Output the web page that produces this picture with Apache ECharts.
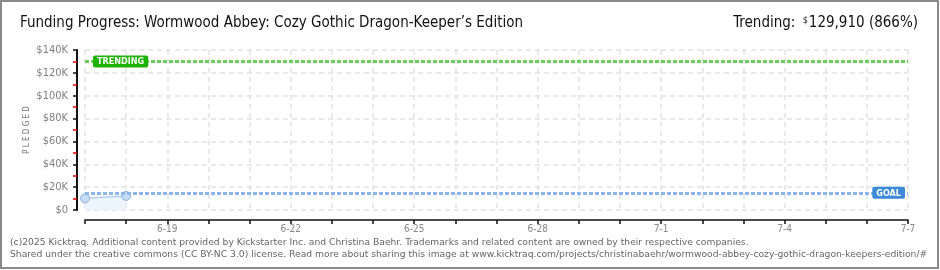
<!DOCTYPE html>
<html><head><meta charset="utf-8">
<script src="https://cdn.jsdelivr.net/npm/echarts@6/dist/echarts.min.js"></script>
<style>html,body{margin:0;padding:0;background:#fff}#c{width:940px;height:270px}</style>
</head><body><div id="c"></div>
<script>
const categories = ['6-17','6-18','6-19','6-20','6-21','6-22','6-23','6-24','6-25','6-26','6-27','6-28','6-29','6-30','7-1','7-2','7-3','7-4','7-5','7-6','7-7'];
const pledged = [10200, 12300];
const goal = 15000;
const trending = 129910;
const yTicks = [0, 20000, 40000, 60000, 80000, 100000, 120000, 140000];
const titleText = 'Funding Progress: Wormwood Abbey: Cozy Gothic Dragon-Keeper\u2019s Edition';
const footer1 = '(c)2025 Kicktraq. Additional content provided by Kickstarter Inc. and Christina Baehr. Trademarks and related content are owned by their respective companies.';
const footer2 = 'Shared under the creative commons (CC BY-NC 3.0) license. Read more about sharing this image at www.kicktraq.com/projects/christinabaehr/wormwood-abbey-cozy-gothic-dragon-keepers-edition/#';

const chart = echarts.init(document.getElementById('c'), null, {renderer:'canvas'});
const pixFont = '"DejaVu Sans Condensed", "DejaVu Sans", sans-serif';
chart.setOption({
  animation: false,
  grid: {left: 85, right: 32, top: 50, bottom: 60},
  title: [
    {text: titleText, left: 15, top: 11, textStyle: {fontFamily: pixFont, fontSize: 15, fontWeight: 'normal', color: '#111'}},
    {text: '{l|Trending: }{s|$}{l|' + trending.toLocaleString('en-US') + ' (' + Math.round(trending/goal*100) + '%)}',
     right: 17, top: 11,
     textStyle: {fontWeight: 'normal', rich: {l: {fontFamily: pixFont, fontSize: 15, fontWeight: 'normal', color: '#111'}, s: {fontFamily: pixFont, fontSize: 9, fontWeight: 'normal', color: '#111', verticalAlign: 'top', padding:[0,1,6,3]}}}}
  ],
  xAxis: {
    type: 'category', data: categories, boundaryGap: false, offset: 10,
    axisLine: {show: true, onZero: false, lineStyle: {color: '#111', width: 1.5}},
    axisTick: {show: true, interval: 0, length: 4, lineStyle: {color: '#111', width: 1.5}},
    axisLabel: {interval: (i) => (i - 2) % 3 === 0, color: '#888', fontFamily: pixFont, fontSize: 10, margin: 4},
    splitLine: {show: true, interval: 0, lineStyle: {color: '#e2e2e2', type: [5, 4], width: 1.5}}
  },
  yAxis: {
    type: 'value', position: 'left', min: 0, max: 140000, interval: 20000, offset: 8,
    axisLine: {show: true, onZero: false, lineStyle: {color: '#111', width: 2, type: 'solid'}},
    axisTick: {show: true, length: 4, lineStyle: {color: '#111', width: 1.5}},
    minorTick: {show: true, splitNumber: 2, length: 4, lineStyle: {color: '#e00', width: 1.5}},
    axisLabel: {color: '#808080', fontFamily: pixFont, fontSize: 11, margin: 9,
      formatter: (v) => v === 0 ? '$0' : '$' + (v/1000) + 'K'},
    splitLine: {show: true, lineStyle: {color: '#e2e2e2', type: [5, 4], width: 1.5}}
  },
  graphic: [
    {type: 'rect', shape: {x: 2, y: 234, width: 935, height: 34}, style: {fill: '#fff'}, silent: true, z: 90},
    {type: 'rect', shape: {x: 1, y: 1, width: 937, height: 267}, style: {fill: 'none', stroke: '#8a8a8a', lineWidth: 2}, silent: true, z: 100},
    {type: 'text', x: 27, y: 130, rotation: Math.PI/2, style: {text: 'P L E D G E D', fill: '#777', font: '8px ' + pixFont, align: 'center', verticalAlign: 'middle'}},
    {type: 'text', x: 10, y: 238, z: 95, style: {text: footer1, fill: '#666', font: '9.2px "DejaVu Sans", Verdana, sans-serif'}},
    {type: 'text', x: 10, y: 250, z: 95, style: {text: footer2, fill: '#666', font: '9.2px "DejaVu Sans", Verdana, sans-serif'}}
  ],
  series: [{
    type: 'line', data: pledged, symbol: 'circle', symbolSize: 9, showSymbol: true,
    lineStyle: {color: '#b3cff0', width: 1.5},
    itemStyle: {color: '#c6dcf6', borderColor: '#8fb2dc', borderWidth: 1},
    areaStyle: {color: '#ecf4fd', opacity: 1},
    z: 3,
    markLine: {
      symbol: 'none', silent: true, animation: false,
      data: [
        {yAxis: trending, lineStyle: {color: '#6ccf5c', type: [4, 2], width: 3},
          label: {show: true, formatter: 'TRENDING', position: 'insideStartTop', distance: 0, offset: [8, 6],
            color: '#fff', backgroundColor: '#1db300', borderRadius: 2, padding: [2, 4, 1, 4], fontFamily: pixFont, fontSize: 9, fontWeight: 'bold'}},
        {yAxis: goal, lineStyle: {color: '#8ab6e8', type: [4, 2], width: 3},
          label: {show: true, formatter: 'GOAL', position: 'insideEndTop', distance: 0, offset: [-3, 6],
            color: '#fff', backgroundColor: '#3b89d8', borderRadius: 2, padding: [2, 4, 1, 4], fontFamily: pixFont, fontSize: 9, fontWeight: 'bold'}}
      ]
    }
  }]
});
</script></body></html>
